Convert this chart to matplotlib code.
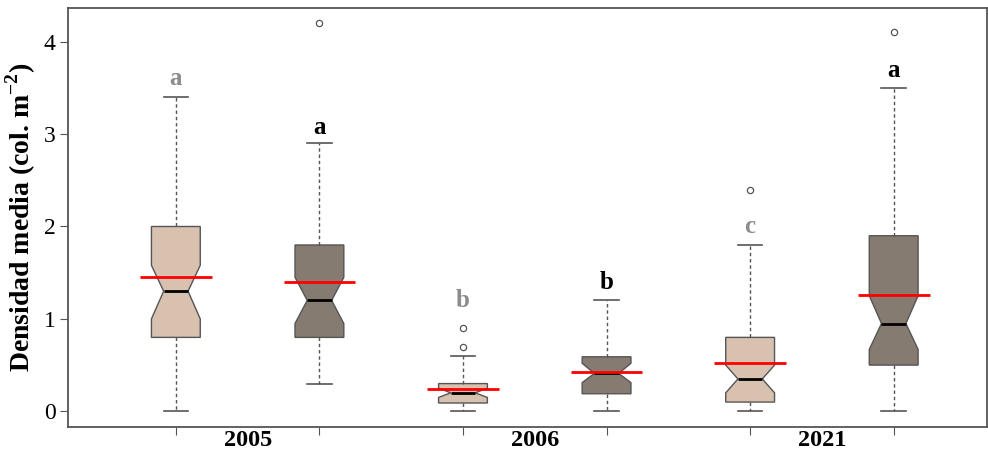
import matplotlib
matplotlib.use("Agg")
import matplotlib.pyplot as plt

# --- Datos (2 grupos por anio) ---
years = ["2005", "2006", "2021"]
group = ["light", "dark", "light", "dark", "light", "dark"]
whislo = [0.0, 0.3, 0.0, 0.0, 0.0, 0.0]
q1 = [0.8, 0.8, 0.09, 0.19, 0.1, 0.5]
med = [1.3, 1.2, 0.2, 0.41, 0.35, 0.95]
q3 = [2.0, 1.8, 0.3, 0.59, 0.8, 1.9]
whishi = [3.4, 2.9, 0.6, 1.2, 1.8, 3.5]
ci_lo = [1.0, 0.95, 0.15, 0.31, 0.2, 0.67]
ci_hi = [1.58, 1.45, 0.25, 0.52, 0.5, 1.25]
means = [1.45, 1.40, 0.24, 0.42, 0.52, 1.26]
fliers = [[], [4.2], [0.7, 0.9], [], [2.4], [4.1]]
letters = ["a", "a", "b", "b", "c", "a"]
letter_y = [3.6, 3.07, 1.2, 1.39, 2.0, 3.69]

COLORS = {"light": "#d8c1ae", "dark": "#857b71"}
LETTER_COLORS = {"light": "#8c8c8c", "dark": "#000000"}
EDGE = "#555555"

plt.rcParams["font.family"] = ["Liberation Serif", "DejaVu Serif"]
plt.rcParams["mathtext.fontset"] = "custom"
plt.rcParams["mathtext.rm"] = "Liberation Serif"
plt.rcParams["mathtext.bf"] = "Liberation Serif:bold"

fig = plt.figure(figsize=(9.88, 4.55), dpi=100)
ax = fig.add_axes([0.069, 0.0615, 0.93, 0.92])

positions = list(range(1, len(q1) + 1))
stats = []
for i in range(len(q1)):
    stats.append({"whislo": whislo[i], "q1": q1[i], "med": med[i],
                  "q3": q3[i], "whishi": whishi[i], "cilo": ci_lo[i],
                  "cihi": ci_hi[i], "fliers": fliers[i], "mean": means[i]})

bp = ax.bxp(stats, positions=positions, widths=0.34, shownotches=True,
            patch_artist=True, showmeans=True, meanline=True,
            capwidths=0.17,
            boxprops=dict(edgecolor=EDGE, linewidth=1.0),
            medianprops=dict(color="black", linewidth=2.0),
            whiskerprops=dict(color=EDGE, linestyle=(0, (2.5, 2)), linewidth=1.0),
            capprops=dict(color=EDGE, linewidth=1.2),
            flierprops=dict(marker="o", markersize=4.5, markerfacecolor="none",
                            markeredgecolor=EDGE, markeredgewidth=0.9),
            meanprops=dict(color="red", linestyle="-", linewidth=2.0))

for patch, g in zip(bp["boxes"], group):
    patch.set_facecolor(COLORS[g])

# linea de media mas ancha que la caja
for line, x in zip(bp["means"], positions):
    line.set_xdata([x - 0.25, x + 0.25])

# letras de significancia
for x, lab, y, g in zip(positions, letters, letter_y, group):
    ax.text(x, y, lab, ha="center", va="center", fontsize=18,
            fontweight="bold", color=LETTER_COLORS[g])

ax.set_xlim(0.25, 6.65)
ax.set_ylim(-0.17, 4.36)
ax.set_yticks([0, 1, 2, 3, 4])
ax.tick_params(axis="y", labelsize=17, length=6, color=EDGE, pad=3)

# ticks en cada caja, etiquetas de anio en el centro de cada par
ax.set_xticks(positions)
ax.set_xticklabels([""] * len(positions))
ax.tick_params(axis="x", which="major", length=6, color=EDGE)
mids = [1.5, 3.5, 5.5]
ax.set_xticks(mids, minor=True)
ax.set_xticklabels(years, minor=True, fontsize=17.5, fontweight="bold")
ax.tick_params(axis="x", which="minor", length=0, pad=2)

ax.set_ylabel(r"Densidad media (col. m$^{\mathbf{-2}}$)", fontsize=20,
              fontweight="bold", labelpad=4)

for s in ax.spines.values():
    s.set_color(EDGE)
    s.set_linewidth(1.3)

fig.savefig("out.png", dpi=100)
